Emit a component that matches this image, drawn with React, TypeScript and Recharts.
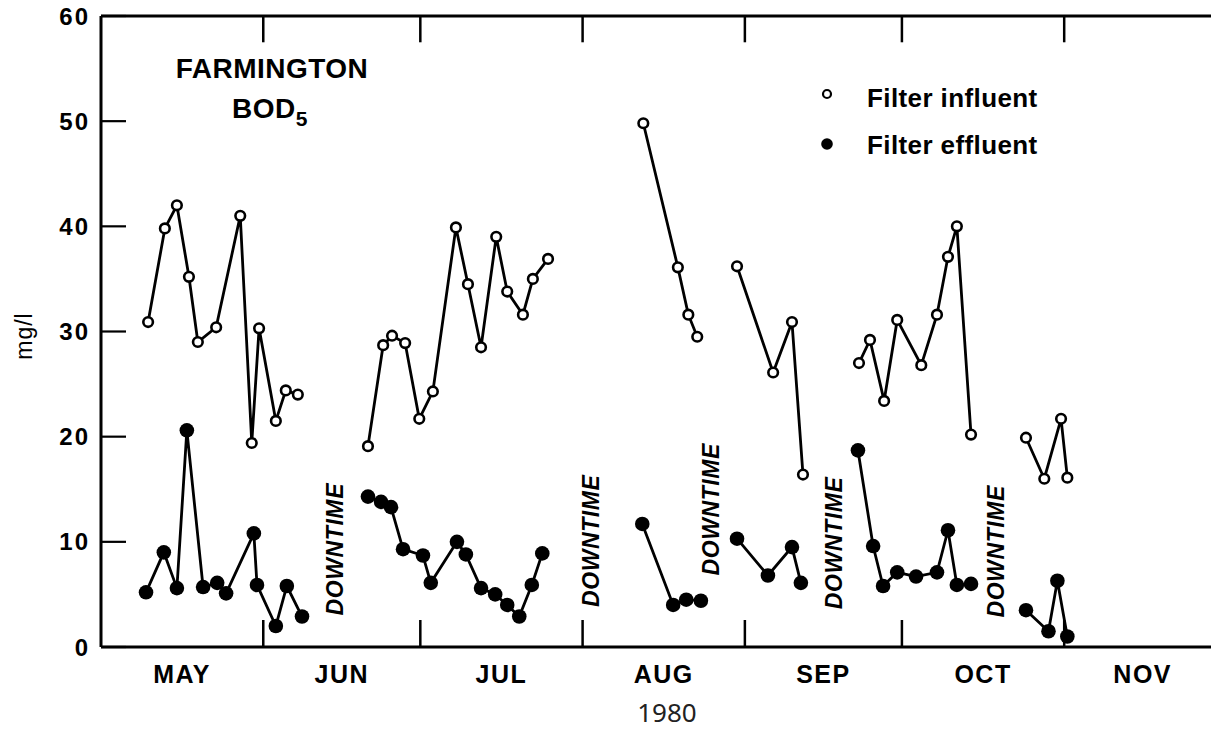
import React from 'react';
import { LineChart, Line, XAxis, YAxis, ReferenceDot, ReferenceLine } from 'recharts';

// x is in days counted from May 1, 1980
const monthNames = ['MAY', 'JUN', 'JUL', 'AUG', 'SEP', 'OCT', 'NOV'];
const monthStarts = [0, 31, 61, 92, 123, 153, 184];
const monthMids = [15.5, 46, 76.5, 107.5, 138, 168.5, 199];
const yTicks = [0, 10, 20, 30, 40, 50, 60];
const rightTicks = [10, 20, 30, 40, 50];

// null entries split the runs at the downtime gaps
const influentDays = [
  9.0, 12.2, 14.5, 16.8, 18.5, 22.0, 26.6, 28.8, 30.2, 33.4, 35.3, 37.6, 44,
  51.0, 53.9, 55.6, 58.1, 60.8, 63.4, 67.8, 70.1, 72.6, 75.5, 77.6, 80.6, 82.5, 85.4, 95,
  103.6, 110.2, 112.2, 113.9, 118,
  121.5, 128.4, 132.0, 134.1, 140,
  144.8, 146.9, 149.6, 152.1, 156.7, 159.7, 161.8, 163.5, 166.2, 172,
  176.7, 180.2, 183.4, 184.6,
];
const influentMgL = [
  30.9, 39.8, 42.0, 35.2, 29.0, 30.4, 41.0, 19.4, 30.3, 21.5, 24.4, 24.0, null,
  19.1, 28.7, 29.6, 28.9, 21.7, 24.3, 39.9, 34.5, 28.5, 39.0, 33.8, 31.6, 35.0, 36.9, null,
  49.8, 36.1, 31.6, 29.5, null,
  36.2, 26.1, 30.9, 16.4, null,
  27.0, 29.2, 23.4, 31.1, 26.8, 31.6, 37.1, 40.0, 20.2, null,
  19.9, 16.0, 21.7, 16.1,
];

const effluentDays = [
  8.6, 12.0, 14.5, 16.4, 19.5, 22.2, 23.9, 29.2, 29.8, 33.4, 35.5, 38.4, 44,
  51.0, 53.5, 55.4, 57.7, 61.5, 63.0, 68.0, 69.7, 72.6, 75.3, 77.6, 79.9, 82.3, 84.3, 95,
  103.4, 109.3, 111.8, 114.6, 118,
  121.5, 127.4, 132.0, 133.7, 140,
  144.6, 147.5, 149.4, 152.1, 155.7, 159.7, 161.8, 163.5, 166.2, 172,
  176.7, 181.0, 182.7, 184.6,
];
const effluentMgL = [
  5.2, 9.0, 5.6, 20.6, 5.7, 6.1, 5.1, 10.8, 5.9, 2.0, 5.8, 2.9, null,
  14.3, 13.8, 13.3, 9.3, 8.7, 6.1, 10.0, 8.8, 5.6, 5.0, 4.0, 2.9, 5.9, 8.9, null,
  11.7, 4.0, 4.5, 4.4, null,
  10.3, 6.8, 9.5, 6.1, null,
  18.7, 9.6, 5.8, 7.1, 6.7, 7.1, 11.1, 5.9, 6.0, null,
  3.5, 1.5, 6.3, 1.0,
];

const downtimeDays = [44.7, 93.6, 116.5, 140, 171];
const downtimeMgL = [9.3, 10.1, 13.1, 9.9, 9.1];

const influentData = influentDays.map((day, i) => ({ day, mgl: influentMgL[i] }));
const effluentData = effluentDays.map((day, i) => ({ day, mgl: effluentMgL[i] }));

const FONT = "'Liberation Sans', Arial, Helvetica, sans-serif";
const AXIS = { stroke: '#000', strokeWidth: 3 };

const BottomTick = (props: any) => {
  const { x, y, payload } = props;
  const v = payload.value;
  const m = monthMids.indexOf(v);
  if (m >= 0) {
    return (
      <text x={x} y={y + 36} textAnchor="middle" fontFamily={FONT} fontWeight="bold"
        fontSize={25} letterSpacing={1.5} fill="#000">
        {monthNames[m]}
      </text>
    );
  }
  if (v === 0) return <g />;
  return <line x1={x} y1={y} x2={x} y2={y - 27} stroke="#000" strokeWidth={2.5} />;
};

const LeftTick = (props: any) => {
  const { x, y, payload } = props;
  return (
    <g>
      <line x1={x} y1={y} x2={x + 25} y2={y} stroke="#000" strokeWidth={2.2} />
      <text x={x - 11} y={y + 8.5} textAnchor="end" fontFamily={FONT} fontWeight="bold"
        fontSize={24} letterSpacing={2} fill="#000">
        {payload.value}
      </text>
    </g>
  );
};

const RightTick = (props: any) => {
  const { x, y } = props;
  return <line x1={x} y1={y} x2={x - 22} y2={y} stroke="#000" strokeWidth={2.5} />;
};

const OpenDot = (props: any) => {
  const { cx, cy, index, payload } = props;
  if (payload?.mgl == null || cy == null) return <g key={`o${index}`} />;
  return <circle key={`o${index}`} cx={cx} cy={cy} r={4.8} fill="#fff" stroke="#000" strokeWidth={2.6} />;
};

const FilledDot = (props: any) => {
  const { cx, cy, index, payload } = props;
  if (payload?.mgl == null || cy == null) return <g key={`f${index}`} />;
  return <circle key={`f${index}`} cx={cx} cy={cy} r={7.3} fill="#000" />;
};

const DowntimeLabel = (props: any) => {
  const { cx, cy } = props;
  return (
    <text x={cx} y={cy} transform={`rotate(-90 ${cx} ${cy})`} textAnchor="middle"
      dominantBaseline="central" fontFamily={FONT} fontWeight="bold" fontStyle="italic"
      fontSize={23} letterSpacing={0.6} fill="#000">
      DOWNTIME
    </text>
  );
};

export default function App() {
  return (
    <div style={{ position: 'absolute', left: 0, top: 0, width: 1211, height: 729, overflow: 'hidden', background: '#fff' }}>
      <LineChart width={1230} height={729} margin={{ top: 0, right: 0, bottom: 0, left: 0 }}>
        <XAxis xAxisId="x" type="number" dataKey="day" domain={[0, 213]} allowDataOverflow
          ticks={[...monthStarts, ...monthMids].sort((a, b) => a - b)} interval={0}
          height={82} tickSize={0} tickMargin={0} axisLine={AXIS} tickLine={false} tick={<BottomTick />} />
        <XAxis xAxisId="top" orientation="top" type="number" domain={[0, 213]} allowDataOverflow
          height={16} axisLine={AXIS} tickLine={false} tick={false} />
        <YAxis yAxisId="y" type="number" domain={[0, 60]} ticks={yTicks} interval={0} width={101}
          tickSize={0} tickMargin={0} axisLine={AXIS} tickLine={false} tick={<LeftTick />} />
        <YAxis yAxisId="r" orientation="right" type="number" domain={[0, 60]} ticks={rightTicks}
          interval={0} width={14} tickSize={0} tickMargin={0} axisLine={AXIS} tickLine={false}
          tick={<RightTick />} />
        {monthStarts.slice(1).map((d) => (
          <ReferenceLine key={`t${d}`} xAxisId="x" yAxisId="y"
            segment={[{ x: d, y: 60 }, { x: d, y: 57.5 }]} stroke="#000" strokeWidth={2.5} />
        ))}
        <Line xAxisId="x" yAxisId="y" data={influentData} dataKey="mgl" type="linear"
          stroke="#000" strokeWidth={2.8} dot={OpenDot} activeDot={false}
          connectNulls={false} isAnimationActive={false} />
        <Line xAxisId="x" yAxisId="y" data={effluentData} dataKey="mgl" type="linear"
          stroke="#000" strokeWidth={2.8} dot={FilledDot} activeDot={false}
          connectNulls={false} isAnimationActive={false} />
        {downtimeDays.map((d, i) => (
          <ReferenceDot key={i} xAxisId="x" yAxisId="y" x={d} y={downtimeMgL[i]} r={0}
            shape={DowntimeLabel} />
        ))}
      </LineChart>
      <svg width={1211} height={729} style={{ position: 'absolute', left: 0, top: 0, pointerEvents: 'none' }}>
        <g fontFamily={FONT} fontWeight="bold" fill="#000">
          <text x={272} y={78} textAnchor="middle" fontSize={28} letterSpacing={0.5}>FARMINGTON</text>
          <text x={270} y={118} textAnchor="middle" fontSize={28} letterSpacing={0.5}>
            BOD<tspan fontSize={21} dy={8}>5</tspan>
          </text>
          <circle cx={827} cy={94} r={4} fill="#fff" stroke="#000" strokeWidth={2.2} />
          <text x={867} y={107} fontSize={26} letterSpacing={0.4}>Filter influent</text>
          <circle cx={827} cy={144} r={5.8} fill="#000" />
          <text x={867} y={154} fontSize={26} letterSpacing={0.4}>Filter effluent</text>
        </g>
        <text x={24} y={336} transform="rotate(-90 24 336)" textAnchor="middle" dominantBaseline="central"
          fontFamily={FONT} fontSize={23} letterSpacing={1} fill="#000">mg/l</text>
        <text x={667} y={722} textAnchor="middle" fontFamily="'Noto Sans', sans-serif" fontSize={26}
          fill="#222">1980</text>
      </svg>
    </div>
  );
}
